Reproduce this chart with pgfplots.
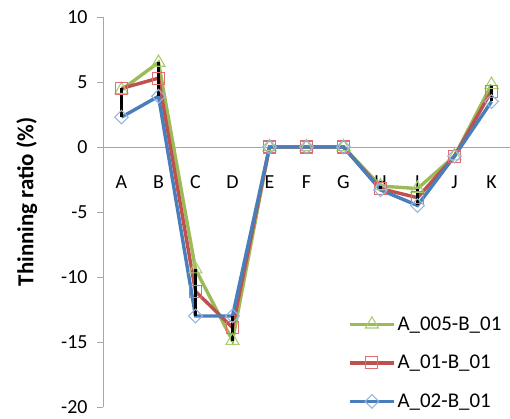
\documentclass[border=0pt]{standalone}
\usepackage{fontspec}
\setmainfont{Carlito}
\usepackage{pgfplots}
\usepackage{pgfplotstable}
\pgfplotsset{compat=1.18}
\usetikzlibrary{calc}
\definecolor{cgreen}{RGB}{155,187,89}
\definecolor{cred}{RGB}{192,80,77}
\definecolor{cblue}{RGB}{74,126,187}
\definecolor{mgreen}{RGB}{170,205,110}
\definecolor{mred}{RGB}{225,110,110}
\definecolor{mblue}{RGB}{150,180,220}
\pgfplotstableread{
x green red blue
0 4.4 4.5 2.3
1 6.5 5.3 3.9
2 -9.4 -11.1 -13.0
3 -14.9 -13.9 -13.0
4 0 0 0
5 0 0 0
6 0 0 0
7 -3.0 -3.2 -3.3
8 -3.2 -3.9 -4.5
9 -0.7 -0.7 -0.7
10 4.8 4.3 3.5
}\thinning
\begin{document}
\begin{tikzpicture}
\begin{axis}[
  scale only axis, width=407bp, height=390bp,
  xmin=-0.5, xmax=10.5, ymin=-20, ymax=10,
  axis x line=middle, axis y line=left,
  axis line style={-, draw=black!35, line width=0.9bp},
  hide obscured x ticks=false, hide obscured y ticks=false,
  xtick={0,...,10}, xticklabels={A,B,C,D,E,F,G,H,I,J,K},
  x tick style={draw=none},
  x tick label style={anchor=north, yshift=-19bp},
  ytick={-20,-15,...,10},
  y tick label style={xshift=-6bp},
  tick align=outside, major tick length=6bp,
  y tick style={draw=black!35, line width=0.9bp},
  tick label style={font=\fontsize{20}{24}\selectfont},
  /pgf/number format/assume math mode=true,
  ylabel={Thinning ratio (\%)},
  ylabel style={font=\bfseries\fontsize{23}{27}\selectfont, at={(axis description cs:-0.187,0.526)}, anchor=center},
  legend style={draw=none, fill=none, at={(0.602,0.237)}, anchor=north west,
    font=\fontsize{21}{25}\selectfont, row sep=19.5bp, inner sep=0pt},
  legend cell align=left,
  legend image code/.code={\draw[mark repeat=2,mark phase=2] plot coordinates {(0bp,0bp)(22bp,0bp)(44bp,0bp)};},
  clip=false,
]
\addplot[cgreen, line width=3.4bp, mark=triangle, mark size=7.5bp, mark options={draw=mgreen, fill=none, line width=1.1bp}] table[x=x,y=green] {\thinning};
\addlegendentry{A\_005-B\_01}
\addplot[cred, line width=3.4bp, mark=square, mark size=6bp, mark options={draw=mred, fill=none, line width=1.1bp}] table[x=x,y=red] {\thinning};
\addlegendentry{A\_01-B\_01}
\addplot[cblue, line width=3.4bp, mark=square, mark size=4.8bp, mark options={draw=mblue, fill=none, line width=1.1bp, rotate=45}] table[x=x,y=blue] {\thinning};
\addlegendentry{A\_02-B\_01}
\addplot[black, line width=2.4bp, forget plot, unbounded coords=jump] coordinates {
(0,2.3) (0,4.5) (0,nan)
(1,3.9) (1,6.5) (1,nan)
(2,-13.0) (2,-9.4) (2,nan)
(3,-14.9) (3,-13.0) (3,nan)
(7,-3.3) (7,-3.0) (7,nan)
(8,-4.5) (8,-3.2) (8,nan)
(10,3.5) (10,4.8)
};
\end{axis}
\pgfresetboundingbox
\path ($(current axis.south west)+(-103bp,-12bp)$) rectangle ($(current axis.north east)+(0bp,17bp)$);
\end{tikzpicture}
\end{document}
